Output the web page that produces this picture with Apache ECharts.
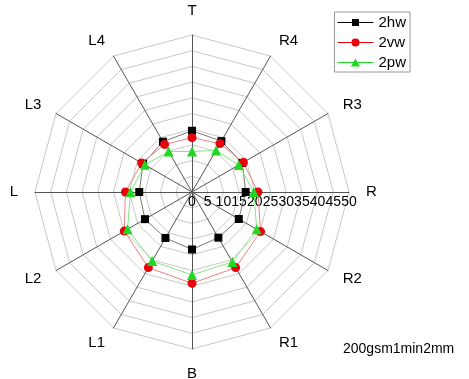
<!DOCTYPE html>
<html>
<head>
<meta charset="utf-8">
<script src="https://cdn.jsdelivr.net/npm/echarts@6/dist/echarts.min.js"></script>
<style>
  html, body { margin: 0; padding: 0; background: #fff; }
  #chart { width: 469px; height: 379px; }
</style>
</head>
<body>
<div id="chart"></div>
<script>
// indicators, counter-clockwise from the top (ECharts radar order)
var directions = ["T", "L4", "L3", "L", "L2", "L1", "B", "R1", "R2", "R", "R3", "R4"];
var series2hw = [19.5, 18.5, 18.0, 16.8, 17.3, 16.9, 18.3, 16.8, 17.2, 17.1, 18.5, 18.7];
var series2vw = [17.3, 17.5, 18.5, 21.2, 24.9, 27.8, 29.1, 27.8, 25.2, 21.0, 18.9, 17.8];
var series2pw = [12.9, 14.9, 17.3, 19.6, 23.7, 25.4, 26.4, 25.7, 23.8, 19.7, 17.2, 15.3];
var seriesNames = ["2hw", "2vw", "2pw"];

// legend icons: a thin line with the marker in the middle (36 x 9 box)
var iconLine = "M0,4 L36,4 L36,5 L0,5 Z ";
var legendIcons = [
  "path://" + iconLine + "M14.5,1 L21.5,1 L21.5,8 L14.5,8 Z",
  "path://" + iconLine + "M22,4.5 A4,4 0 1 1 14,4.5 A4,4 0 1 1 22,4.5 Z",
  "path://" + iconLine + "M18,0.5 L22.5,8.5 L13.5,8.5 Z"
];

function drawChart() {
  var myChart = echarts.init(document.getElementById("chart"));

  // only the R axis carries the 0..50 tick labels
  var indicator = directions.map(function (d) {
    var item = { name: d, min: 0, max: 50 };
    if (d === "R") {
      item.axisLabel = {
        show: true,
        color: "#000",
        fontSize: 14,
        fontFamily: "Liberation Sans",
        margin: -17,
        rotate: 0
      };
    }
    return item;
  });

  var option = {
    animation: false,
    legend: {
      data: seriesNames.map(function (n, i) {
        return { name: n, icon: legendIcons[i] };
      }),
      orient: "vertical",
      right: 59,
      top: 12,
      itemWidth: 36,
      itemHeight: 9,
      itemGap: 5,
      padding: [3, 4, 2, 3],
      borderColor: "#999",
      borderWidth: 1,
      borderRadius: 0,
      textStyle: { color: "#000", fontSize: 15, fontFamily: "Liberation Sans" }
    },
    graphic: [
      {
        type: "text",
        left: 343,
        top: 342,
        style: { text: "200gsm1min2mm", fill: "#000", fontSize: 14, fontFamily: "Liberation Sans" }
      }
    ],
    radar: {
      center: [192, 192],
      radius: 157,
      startAngle: 90,
      shape: "polygon",
      splitNumber: 10,
      indicator: indicator,
      axisName: { color: "#000", fontSize: 15, fontFamily: "Liberation Sans" },
      nameGap: 17,
      axisLine: { lineStyle: { color: "#555", width: 1 } },
      splitLine: { lineStyle: { color: "#c8c8c8", width: 1 } },
      splitArea: { show: false },
      axisLabel: { show: false }
    },
    series: [
      {
        type: "radar",
        data: [
          {
            name: "2hw",
            value: series2hw,
            symbol: "rect",
            symbolSize: 8,
            itemStyle: { color: "#000" },
            lineStyle: { color: "#555", width: 0.8 }
          },
          {
            name: "2vw",
            value: series2vw,
            symbol: "circle",
            symbolSize: 9,
            itemStyle: { color: "#e8000b" },
            lineStyle: { color: "#f08080", width: 1 }
          },
          {
            name: "2pw",
            value: series2pw,
            symbol: "triangle",
            symbolSize: 10,
            itemStyle: { color: "#22d822" },
            lineStyle: { color: "#80e880", width: 1 }
          }
        ]
      }
    ]
  };

  myChart.setOption(option);
  return myChart;
}
drawChart();
</script>
</body>
</html>
